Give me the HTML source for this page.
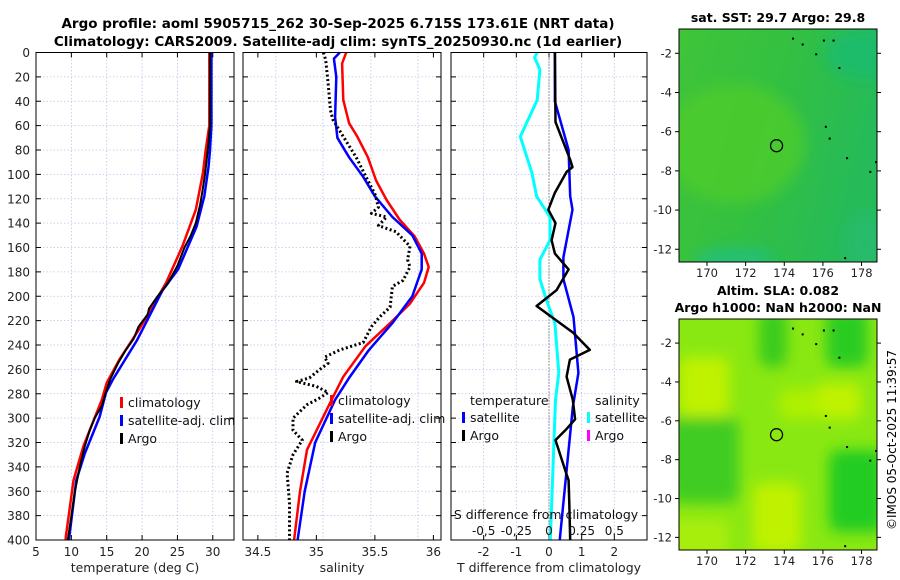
<!DOCTYPE html>
<html><head><meta charset="utf-8"><style>
body{margin:0;background:#fff;}
svg{display:block;font-family:"DejaVu Sans","Liberation Sans",sans-serif;}
</style></head><body>
<svg id="s" width="900" height="580" viewBox="0 0 900 580">
<defs>
<filter id="bl" x="-10%" y="-10%" width="120%" height="120%"><feGaussianBlur stdDeviation="7"/></filter>
<clipPath id="c1"><rect x="679" y="29" width="198" height="233"/></clipPath>
<clipPath id="c2"><rect x="679" y="319" width="198" height="231"/></clipPath>
<linearGradient id="g1" x1="0" y1="0" x2="1" y2="0.3"><stop offset="0" stop-color="#40c43a"/><stop offset="0.5" stop-color="#34c040"/><stop offset="1" stop-color="#26bb58"/></linearGradient>
</defs>
<text x="338" y="28" font-size="13.5" font-weight="bold" text-anchor="middle">Argo profile: aoml 5905715_262 30-Sep-2025 6.715S 173.61E (NRT data)</text>
<text x="338" y="46" font-size="13.5" font-weight="bold" text-anchor="middle">Climatology: CARS2009. Satellite-adj clim: synTS_20250930.nc (1d earlier)</text>
<g id="plots"></g>
<g id="maps"></g>
<text transform="translate(896,440) rotate(-90)" font-size="12" text-anchor="middle">©IMOS 05-Oct-2025 11:39:57</text>
</svg>
<script>
// ---- data ----
const tClimDepth=[0,60,80,99,129,159,189,227,252,271,285,323,351,398,400];
const tClimVal=[29.5,29.5,29.0,28.6,27.6,25.7,23.4,19.6,16.8,15.0,14.3,11.7,10.3,9.2,9.2];
const tSatDepth=[0,60,80,94,118,143,178,195,236,268,279,299,329,351,398,400];
const tSatVal=[29.8,29.8,29.6,29.4,28.8,27.7,25.1,22.9,19.3,15.9,14.9,14.0,11.9,10.7,9.7,9.7];
const tArgoDepth=[0,60,80,100,115,125,140,150,160,175,190,200,210,215,225,235,245,255,268,280,290,300,310,323,340,360,380,400];
const tArgoVal=[29.6,29.6,29.3,28.9,28.5,28.2,27.6,26.9,26.0,25.0,23.6,22.2,21.0,20.8,19.5,18.8,17.6,16.6,15.5,14.8,14.3,13.3,12.6,11.9,11.2,10.5,10.0,9.5];
const sClimDepth=[0,9,39,58,69,86,105,121,137,151,165,176,189,206,222,241,266,285,326,360,400];
const sClimVal=[35.255,35.22,35.23,35.28,35.35,35.44,35.51,35.6,35.71,35.84,35.92,35.96,35.92,35.8,35.63,35.42,35.23,35.13,34.92,34.86,34.81];
const sSatDepth=[0,5,20,53,70,86,102,118,135,150,165,178,200,222,244,267,285,320,360,400];
const sSatVal=[35.2,35.15,35.17,35.16,35.18,35.28,35.4,35.5,35.65,35.82,35.9,35.9,35.82,35.65,35.45,35.28,35.16,34.99,34.9,34.84];
const sArgoDepth=[0,6,25,47,55,69,86,105,116,127,132,135,142,147,159,170,176,187,192,209,217,225,238,244,250,255,260,267,270,274,279,284,289,300,310,318,330,345,370,400];
const sArgoVal=[35.06,35.08,35.1,35.12,35.14,35.23,35.34,35.44,35.5,35.53,35.47,35.6,35.53,35.68,35.8,35.78,35.8,35.74,35.65,35.63,35.54,35.47,35.4,35.2,35.07,35.1,35.03,34.94,34.83,35.0,35.1,35.02,34.92,34.8,34.8,34.88,34.8,34.75,34.77,34.77];
const dTSatDepth=[0,40,80,118,129,168,186,217,263,291,397,400];
const dTSatVal=[0.18,0.18,0.6,0.65,0.72,0.44,0.44,0.75,0.9,0.73,0.34,0.33];
const dTArgoDepth=[0,57,88,94,98,115,129,140,154,165,178,195,208,219,230,244,252,266,285,301,310,318,343,351,370,400];
const dTArgoVal=[0.18,0.2,0.65,0.72,0.54,0.18,-0.02,0.2,0.08,0.18,0.6,0.23,-0.38,0.18,0.74,1.25,0.64,0.54,0.73,0.8,0.5,0.2,0.5,0.6,0.62,0.65];
const dSSatDepth=[0,4,14,39,69,99,118,135,154,170,186,203,222,263,285,400];
const dSSatVal=[-0.09,-0.11,-0.07,-0.09,-0.22,-0.13,-0.095,0.008,0.008,-0.07,-0.07,-0.02,0.045,0.075,0.05,0.01];
const depthTicks=[0,20,40,60,80,100,120,140,160,180,200,220,240,260,280,300,320,340,360,380,400];
const tTicks=[5,10,15,20,25,30];
const sTicks=[34.5,35,35.5,36];
const sGrid=[34.654,35.056,35.466,35.868];
const dTTicks=[-2,-1,0,1,2];
const dSTicks=[-0.5,-0.25,0,0.25,0.5];
const dSTickLabels=['-0,5','-0,25','0','0.25','0.5'];
const lonTicks=[170,172,174,176,178];
const latTicks=[-2,-4,-6,-8,-10,-12];

const NS='http://www.w3.org/2000/svg';
function mk(tag,attrs,parent,txt){const e=document.createElementNS(NS,tag);for(const k in attrs)e.setAttribute(k,attrs[k]);if(txt!==undefined)e.textContent=txt;parent.appendChild(e);return e;}
const Y0=52.5,Y1=540;
const yS=d=>Y0+(Y1-Y0)*d/400;
function lin(a,b,p,q){return v=>p+(v-a)*(q-p)/(b-a);}
const G=document.getElementById('plots');
const panels=[{x0:36,x1:234,sx:lin(5,33,36,234),name:'temperature-panel'},{x0:243,x1:441,sx:lin(34.373,36.065,243,441),name:'salinity-panel'},{x0:451,x1:647,sx:lin(-3,3,451,647),name:'difference-panel'}];
const sxS=lin(-0.75,0.75,451,647);
function frame(p,xt,labels,xlab,grid){
  const g=mk('g',{},G);
  
  
  (grid||xt).forEach(v=>{const x=p.sx(v);mk('line',{x1:x,x2:x,y1:Y0,y2:Y1,stroke:'#b9c3ea','stroke-width':0.8,'stroke-dasharray':'1.5,2'},g);});
  depthTicks.forEach(d=>{const y=yS(d);mk('line',{x1:p.x0,x2:p.x1,y1:y,y2:y,stroke:'#b9c3ea','stroke-width':0.8,'stroke-dasharray':'1.5,2'},g);
    mk('line',{x1:p.x0,x2:p.x0+5,y1:y,y2:y,stroke:'#000'},g);mk('line',{x1:p.x1-5,x2:p.x1,y1:y,y2:y,stroke:'#000'},g);});
  xt.forEach((v,i)=>{const x=p.sx(v);mk('line',{x1:x,x2:x,y1:Y1,y2:Y1-5,stroke:'#000'},g);mk('line',{x1:x,x2:x,y1:Y0,y2:Y0+5,stroke:'#000'},g);
    const t=mk('text',{x:x,y:Y1+16,'font-size':12,'text-anchor':'middle',fill:'#222'},g,labels?labels[i]:String(v));
    });
  const xl=mk('text',{x:(p.x0+p.x1)/2,y:572,'font-size':12.5,'text-anchor':'middle',fill:'#222'},g,xlab);
  
  return g;
}
function line(g,depths,vals,sx,color,w,dash,name){
  let d='';depths.forEach((dp,i)=>{d+=(i?'L':'M')+sx(vals[i]).toFixed(1)+','+yS(dp).toFixed(1);});
  const a={d:d,fill:'none',stroke:color,'stroke-width':w,'stroke-linejoin':'round'};if(dash)a['stroke-dasharray']=dash;
  const e=mk('path',a,g);
}
function legend(g,x,y,items){items.forEach((it,i)=>{const yy=y+i*18;mk('rect',{x:x,y:yy-10,width:3,height:11,fill:it[1]},g);
  const t=mk('text',{x:x+8,y:yy,'font-size':12.5,fill:'#111'},g,it[0]);});}
// panel 1
let g=frame(panels[0],tTicks,null,'temperature (deg C)');
depthTicks.forEach(d=>{const t=mk('text',{x:30,y:yS(d)+4.5,'font-size':12,'text-anchor':'end',fill:'#222'},g,String(d));});
line(g,tClimDepth,tClimVal,panels[0].sx,'#f00',2.5,null,'temp-climatology-line');
line(g,tSatDepth,tSatVal,panels[0].sx,'#00f',2.5,null,'temp-satellite-line');
line(g,tArgoDepth,tArgoVal,panels[0].sx,'#000',2,null,'temp-argo-line');
legend(g,120,407,[['climatology','#f00'],['satellite-adj. clim','#00f'],['Argo','#000']]);
mk('rect',{x:36,y:Y0,width:198,height:Y1-Y0,fill:'none',stroke:'#000'},g);
// panel 2
g=frame(panels[1],sTicks,null,'salinity',sGrid);
line(g,sClimDepth,sClimVal,panels[1].sx,'#f00',2.5,null,'sal-climatology-line');
line(g,sSatDepth,sSatVal,panels[1].sx,'#00f',2.5,null,'sal-satellite-line');
line(g,sArgoDepth,sArgoVal,panels[1].sx,'#000',3,'2,2.5','sal-argo-line');
legend(g,330,405,[['climatology','#f00'],['satellite-adj. clim','#00f'],['Argo','#000']]);
mk('rect',{x:243,y:Y0,width:198,height:Y1-Y0,fill:'none',stroke:'#000'},g);
// panel 3
g=frame(panels[2],dTTicks,null,'T difference from climatology');
mk('line',{x1:549,x2:549,y1:Y0,y2:Y1,stroke:'#444','stroke-width':1,'stroke-dasharray':'1,2'},g);
line(g,dSSatDepth,dSSatVal,sxS,'#0ff',3,null,'sal-diff-satellite-line');
line(g,dTSatDepth,dTSatVal,panels[2].sx,'#00f',2.5,null,'temp-diff-satellite-line');
line(g,dTArgoDepth,dTArgoVal,panels[2].sx,'#000',2.5,null,'temp-diff-argo-line');
let t=mk('text',{x:470,y:405,'font-size':12.5,fill:'#111'},g,'temperature');
legend(g,462,422,[['satellite','#00f'],['Argo','#000']]);
t=mk('text',{x:595,y:405,'font-size':12.5,fill:'#111'},g,'salinity');
legend(g,587,422,[['satellite','#0ff'],['Argo','#f0f']]);
t=mk('text',{x:546,y:519,'font-size':12.5,'text-anchor':'middle',fill:'#111'},g,'S difference from climatology');
dSTicks.forEach((v,i)=>{const tt=mk('text',{x:sxS(v),y:535,'font-size':12,'text-anchor':'middle',fill:'#111'},g,dSTickLabels[i]);});
mk('rect',{x:451,y:Y0,width:196,height:Y1-Y0,fill:'none',stroke:'#000'},g);
// maps
const M=document.getElementById('maps');
const lonS=lin(168.55,178.8,679,877);
function map(top,bottom,title,clip,isSla,name){
  const gg=mk('g',{},M);
  const latS=lin(-0.76,-12.65,top,bottom);
  const c=mk('g',{'clip-path':'url(#'+clip+')'},gg);
  if(!isSla){
    mk('rect',{x:679,y:top,width:198,height:bottom-top,fill:'url(#g1)'},c);
    const b=mk('g',{filter:'url(#bl)'},c);
    mk('ellipse',{cx:735,cy:top+115,rx:70,ry:60,fill:'#4ccc2c',opacity:0.8},b);
    mk('ellipse',{cx:865,cy:top+25,rx:40,ry:25,fill:'#1cbb70',opacity:0.8},b);
    mk('ellipse',{cx:735,cy:bottom-3,rx:40,ry:12,fill:'#20bf80',opacity:0.8},b);
    mk('ellipse',{cx:865,cy:bottom-20,rx:20,ry:30,fill:'#24bb70',opacity:0.8},b);
  } else {
    const h=bottom-top;
    mk('rect',{x:679,y:top,width:198,height:h,fill:'#8ae812'},c);
    const b=mk('g',{filter:'url(#bl)'},c);
    const L=(x,y,w,hh,col)=>mk('rect',{x:679+x,y:top+y,width:w,height:hh,fill:col,rx:10},b);
    L(0,38,50,62,'#c0f200');L(137,64,45,36,'#c0f200');L(74,164,48,70,'#c0f200');L(100,70,40,30,'#aef000');
    L(80,-10,28,58,'#3acc1e');L(147,-10,42,58,'#2ccc22');L(-10,98,70,86,'#3fcc20');L(150,131,55,82,'#22cc22');
    L(-10,200,60,40,'#a8ee08');
  }
  mk('circle',{cx:lonS(173.6),cy:latS(-6.715),r:6,fill:'none',stroke:'#000','stroke-width':1.3},gg);
  [[174.4,-1.2],[174.9,-1.5],[175.6,-2],[176,-1.3],[176.5,-1.3],[176.8,-2.7],[177.1,-12.4],[176.3,-6.3],[178.4,-8],[178.7,-7.5],[176.1,-5.7],[177.2,-7.3]].forEach(p=>mk('rect',{x:lonS(p[0]),y:latS(p[1]),width:2,height:2,fill:'#000'},gg));
  mk('rect',{x:679,y:top,width:198,height:bottom-top,fill:'none',stroke:'#000'},gg);
  lonTicks.forEach(v=>{const x=lonS(v);mk('line',{x1:x,x2:x,y1:bottom,y2:bottom+4,stroke:'#000'},gg);
    const tt=mk('text',{x:x,y:bottom+15,'font-size':11.5,'text-anchor':'middle',fill:'#222'},gg,String(v));});
  latTicks.forEach(v=>{const y=latS(v);mk('line',{x1:675,x2:679,y1:y,y2:y,stroke:'#000'},gg);mk('line',{x1:877,x2:881,y1:y,y2:y,stroke:'#000'},gg);
    const tt=mk('text',{x:672,y:y+4,'font-size':11.5,'text-anchor':'end',fill:'#222'},gg,String(v));});
  title.forEach((s,i)=>{const tt=mk('text',{x:778,y:top-(title.length-1-i)*17-7,'font-size':12.5,'font-weight':'bold','text-anchor':'middle'},gg,s);});
}
map(29,262,['sat. SST: 29.7 Argo: 29.8'],'c1',false,'sst-map');
map(319,550,['Altim. SLA: 0.082','Argo h1000: NaN h2000: NaN'],'c2',true,'sla-map');
</script>
</body></html>
